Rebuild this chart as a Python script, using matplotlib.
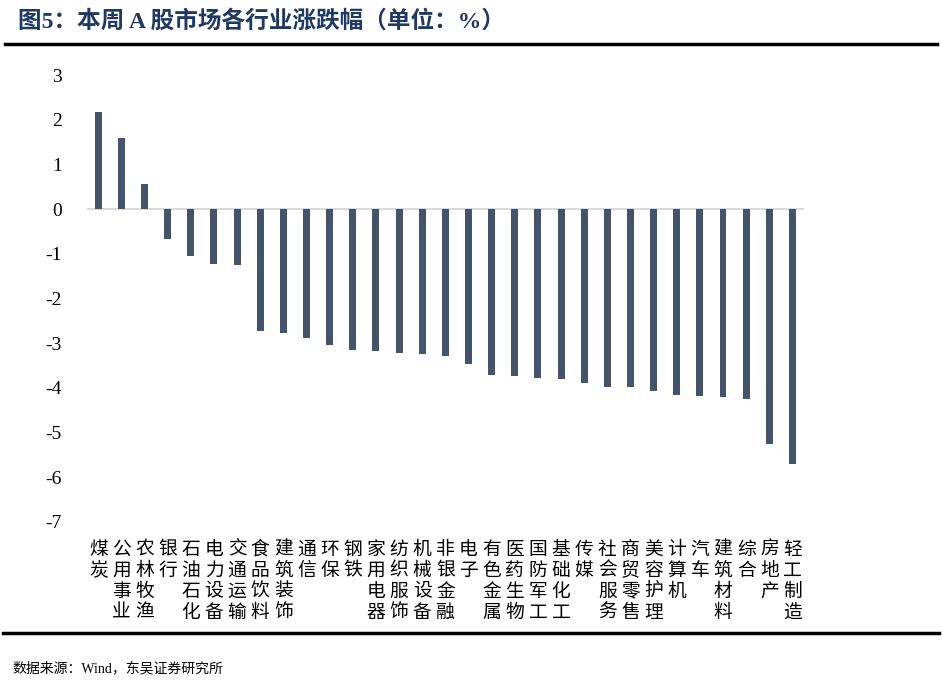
import numpy as np
import matplotlib
matplotlib.use("Agg")
import matplotlib.pyplot as plt

# ---------- data ----------
industries = ["煤炭", "公用事业", "农林牧渔", "银行", "石油石化", "电力设备", "交通运输",
              "食品饮料", "建筑装饰", "通信", "环保", "钢铁", "家用电器", "纺织服饰",
              "机械设备", "非银金融", "电子", "有色金属", "医药生物", "国防军工",
              "基础化工", "传媒", "社会服务", "商贸零售", "美容护理", "计算机", "汽车",
              "建筑材料", "综合", "房地产", "轻工制造"]
changes = [2.18, 1.58, 0.56, -0.68, -1.06, -1.23, -1.24,
           -2.73, -2.78, -2.88, -3.03, -3.15, -3.17, -3.21,
           -3.24, -3.28, -3.47, -3.71, -3.73, -3.78,
           -3.79, -3.88, -3.97, -3.98, -4.07, -4.16, -4.19,
           -4.21, -4.25, -5.26, -5.70]
y_ticks = [3, 2, 1, 0, -1, -2, -3, -4, -5, -6, -7]

title = "图5：本周 A 股市场各行业涨跌幅（单位：%）"
source = "数据来源：Wind，东吴证券研究所"

CJK = ["Liberation Serif", "Noto Sans CJK SC"]
BAR = "#44546A"
NAVY = "#1F3864"

fig = plt.figure(figsize=(9.42, 6.92), dpi=100)
ax = fig.add_axes([0.092, 1 - 522 / 692, 0.8535 - 0.092, (522 - 75) / 692])

x = np.arange(len(industries))
ax.bar(x, changes, width=0.3, color=BAR, zorder=2)
ax.axhline(0, color="#D9D9D9", lw=1.5, zorder=1)

ax.set_xlim(-0.5, len(industries) - 0.5)
ax.set_ylim(-7, 3)
ax.set_yticks(y_ticks)
ax.set_yticklabels([str(v) for v in y_ticks], family="Liberation Serif", fontsize=14)
ax.tick_params(axis="y", length=0, pad=18)

ax.set_xticks(x)
ax.set_xticklabels(["\n".join(n) for n in industries], family=["Noto Sans CJK SC"],
                   fontsize=13.5, linespacing=1.0, va="top")
ax.tick_params(axis="x", length=0, pad=12)

for s in ax.spines.values():
    s.set_visible(False)

# title + rules
fig.text(18 / 942, 1 - 21 / 692, title, family=CJK, fontsize=17, fontweight="bold",
         color=NAVY, va="center", ha="left")
fig.add_artist(plt.Line2D([5 / 942, 937 / 942], [1 - 44 / 692] * 2, color="black", lw=2.5))
fig.add_artist(plt.Line2D([3 / 942, 939 / 942], [1 - 633 / 692] * 2, color="black", lw=2.5))
fig.text(12 / 942, 1 - 668 / 692, source, family=CJK, fontsize=10, color="black",
         va="center", ha="left")

fig.savefig("out.png", dpi=100)
